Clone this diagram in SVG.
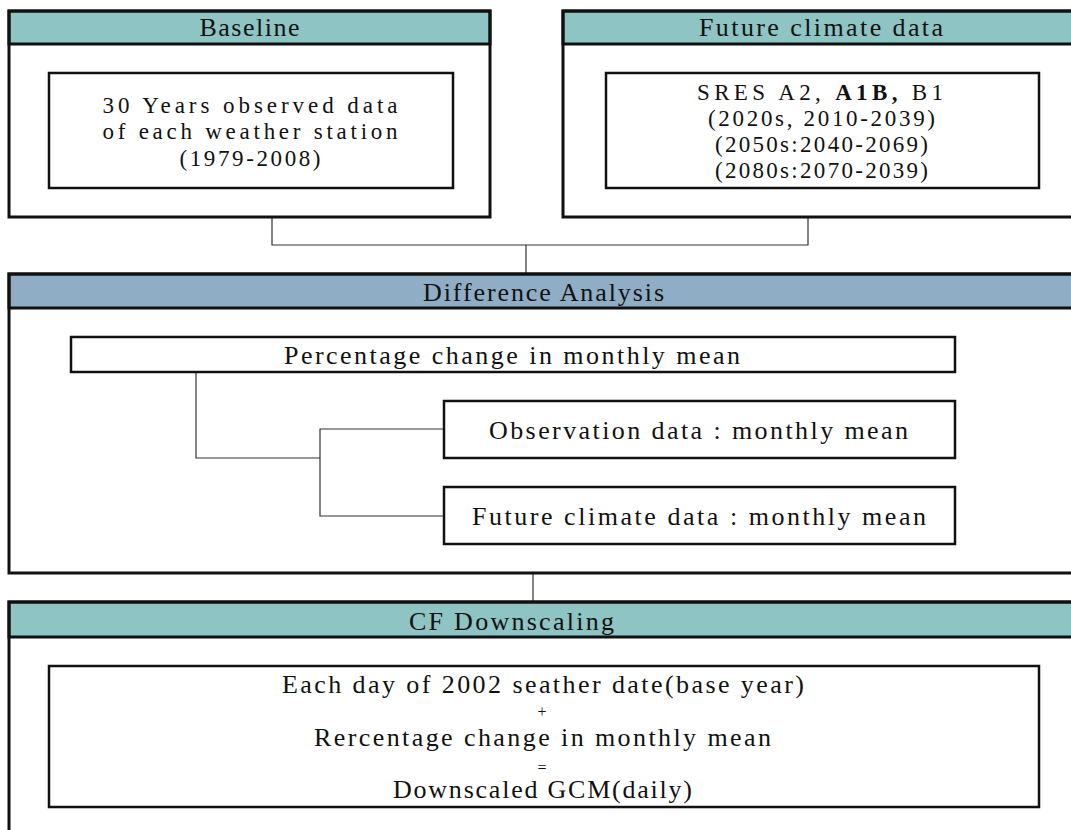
<svg xmlns="http://www.w3.org/2000/svg" width="1071" height="830" viewBox="0 0 1071 830">
<style>
.outer{fill:none;stroke:#111;stroke-width:3}
.hdrT{fill:#8EC4C3;stroke:#111;stroke-width:3}
.hdrB{fill:#8FADC5;stroke:#111;stroke-width:3}
.inner{fill:#fff;stroke:#111;stroke-width:2.5}
.conn{fill:none;stroke:#333;stroke-width:1.2}
text{font-family:"Liberation Serif","DejaVu Serif",serif;font-size:26px;fill:#111;text-anchor:middle}
.tight{font-size:23px}
.small{font-size:16px}
</style>
<rect x="0" y="0" width="1071" height="830" fill="#fff"/>
<g id="connectors">
<polyline class="conn" points="272,217 272,245 808,245 808,217"/>
<line class="conn" x1="526" y1="245" x2="526" y2="274"/>
<line class="conn" x1="533" y1="573" x2="533" y2="602"/>
<polyline class="conn" points="196,372 196,458 320,458"/>
<polyline class="conn" points="444,429 320,429 320,516 444,516"/>
</g>
<g id="baseline">
<rect class="hdrT" x="9" y="11" width="481" height="33"/>
<rect class="outer" x="9" y="11" width="481" height="206"/>
<text x="249.5" y="36" textLength="100" lengthAdjust="spacing">Baseline</text>
<rect class="inner" x="49" y="73" width="404" height="115"/>
<text class="tight" x="250" y="113" textLength="295" lengthAdjust="spacing">30 Years observed data</text>
<text class="tight" x="250" y="139" textLength="295" lengthAdjust="spacing">of each weather station</text>
<text class="tight" x="250" y="166" textLength="141" lengthAdjust="spacing">(1979-2008)</text>
</g>
<g id="future">
<rect class="hdrT" x="563" y="11" width="516" height="33"/>
<rect class="outer" x="563" y="11" width="516" height="206"/>
<text x="821" y="36" textLength="244" lengthAdjust="spacing">Future climate data</text>
<rect class="inner" x="606" y="73" width="433" height="115"/>
<text class="tight" x="820" y="100" textLength="246" lengthAdjust="spacing">SRES A2, <tspan font-weight="bold">A1B,</tspan> B1</text>
<text class="tight" x="821.5" y="126" textLength="227" lengthAdjust="spacing">(2020s, 2010-2039)</text>
<text class="tight" x="821.5" y="152" textLength="213" lengthAdjust="spacing">(2050s:2040-2069)</text>
<text class="tight" x="821.5" y="178" textLength="213" lengthAdjust="spacing">(2080s:2070-2039)</text>
</g>
<g id="difference">
<rect class="hdrB" x="9" y="274" width="1069" height="34"/>
<rect class="outer" x="9" y="274" width="1069" height="299"/>
<text x="543.5" y="301" textLength="241" lengthAdjust="spacing">Difference Analysis</text>
</g>
<g id="percentage">
<rect class="inner" x="71" y="337" width="884" height="35"/>
<text x="512" y="364" textLength="456" lengthAdjust="spacing">Percentage change in monthly mean</text>
</g>
<g id="observation">
<rect class="inner" x="444" y="401" width="511" height="57"/>
<text x="698.5" y="439" textLength="419" lengthAdjust="spacing">Observation data : monthly mean</text>
</g>
<g id="future-monthly">
<rect class="inner" x="444" y="487" width="511" height="57"/>
<text x="699" y="525" textLength="454" lengthAdjust="spacing">Future climate data : monthly mean</text>
</g>
<g id="cf-downscaling">
<rect class="hdrT" x="9" y="602" width="1069" height="35"/>
<rect class="outer" x="9" y="602" width="1069" height="260"/>
<text x="511.5" y="630" textLength="205" lengthAdjust="spacing">CF Downscaling</text>
<rect class="inner" x="49" y="666" width="990" height="141"/>
<text x="543" y="693" textLength="522" lengthAdjust="spacing">Each day of 2002 seather date(base year)</text>
<text class="small" x="542" y="717">+</text>
<text x="542.5" y="746" textLength="457" lengthAdjust="spacing">Rercentage change in monthly mean</text>
<text class="small" x="542" y="773">=</text>
<text x="542.5" y="798" textLength="299" lengthAdjust="spacing">Downscaled GCM(daily)</text>
</g>
</svg>
